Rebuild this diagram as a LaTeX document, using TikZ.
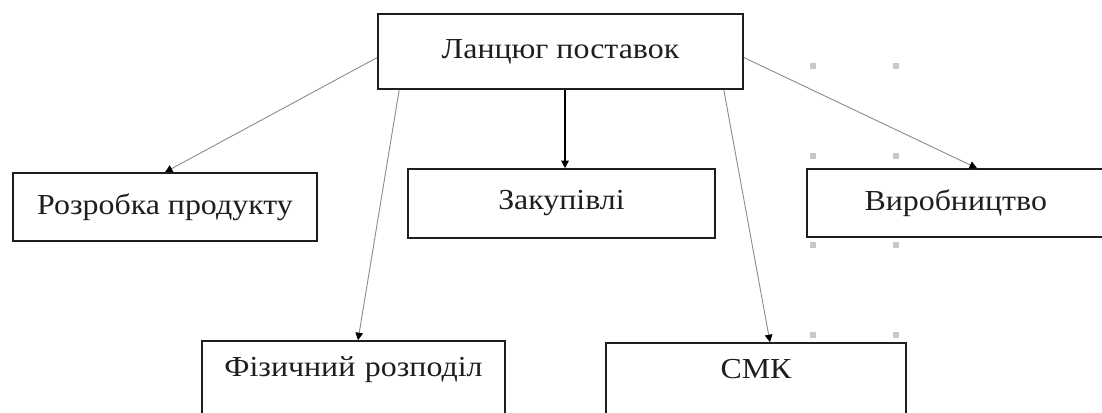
\documentclass[tikz,border=0pt]{standalone}
\usepackage{fontspec}
\setmainfont{Liberation Serif}[FakeStretch=1.1]
\usetikzlibrary{arrows.meta,calc}
\definecolor{linkgray}{HTML}{8C8C8C}
\definecolor{handle}{HTML}{C8C8C8}
\definecolor{ink}{HTML}{1E1E1E}
\tikzset{
  box/.style={draw=ink, line width=1.6pt, inner sep=0pt, text=ink,
    font=\fontsize{29}{33}\selectfont},
  link/.style={draw=linkgray, line width=0.9pt,
    -{Triangle[length=7.5pt,width=7.5pt,fill=black,color=black]}},
  mainlink/.style={draw=black, line width=1.2pt,
    -{Triangle[length=7.5pt,width=7.5pt,fill=black,color=black]}},
}
\begin{document}
\begin{tikzpicture}[x=1pt,y=-1pt]
  \useasboundingbox (0,0) rectangle (1102,412);
  \clip (0,0) rectangle (1102,412);
  \fill[white] (0,0) rectangle (1102,412);

  % boxes
  \node[box, minimum width=365pt, minimum height=75pt] (chain) at (560.5,51.5) {\raisebox{3pt}{Ланцюг поставок}};
  \node[box, minimum width=304pt, minimum height=68pt] (dev) at (165,207) {\raisebox{1pt}{Розробка продукту}};
  \node[box, minimum width=307pt, minimum height=69pt] (buy) at (561.5,203.5) {Закупівлі};
  \node[box, minimum width=303pt, minimum height=68pt, text width=280pt, align=left] (make) at (958.5,203) {\hspace*{46pt}Виробництво};
  \node[box, minimum width=303pt, minimum height=75pt, text width=290pt, align=center] (dist) at (353.5,378.5) {\raisebox{24pt}{Фізичний розподіл}};
  \node[box, minimum width=300pt, minimum height=75pt, text width=290pt, align=center] (qms) at (756,380.5) {\raisebox{24pt}{СМК}};

  % connectors
  \draw[link] ([yshift=-6pt]chain.west) -- (dev.north);
  \draw[link] ([xshift=22pt]chain.south west) -- ([xshift=4.5pt]dist.north);
  \draw[mainlink] ([xshift=4.5pt]chain.south) -- ([xshift=3.5pt]buy.north);
  \draw[link] ([xshift=-20pt]chain.south east) -- ([xshift=14pt]qms.north);
  \draw[link] ([yshift=-6pt]chain.east) -- ([xshift=18.5pt]make.north);

  % small grey handles
  \foreach \hx in {813,896}
    \foreach \hy in {66,156,245,335}
      \fill[handle] (\hx-3,\hy-3) rectangle (\hx+3,\hy+3);
\end{tikzpicture}
\end{document}
